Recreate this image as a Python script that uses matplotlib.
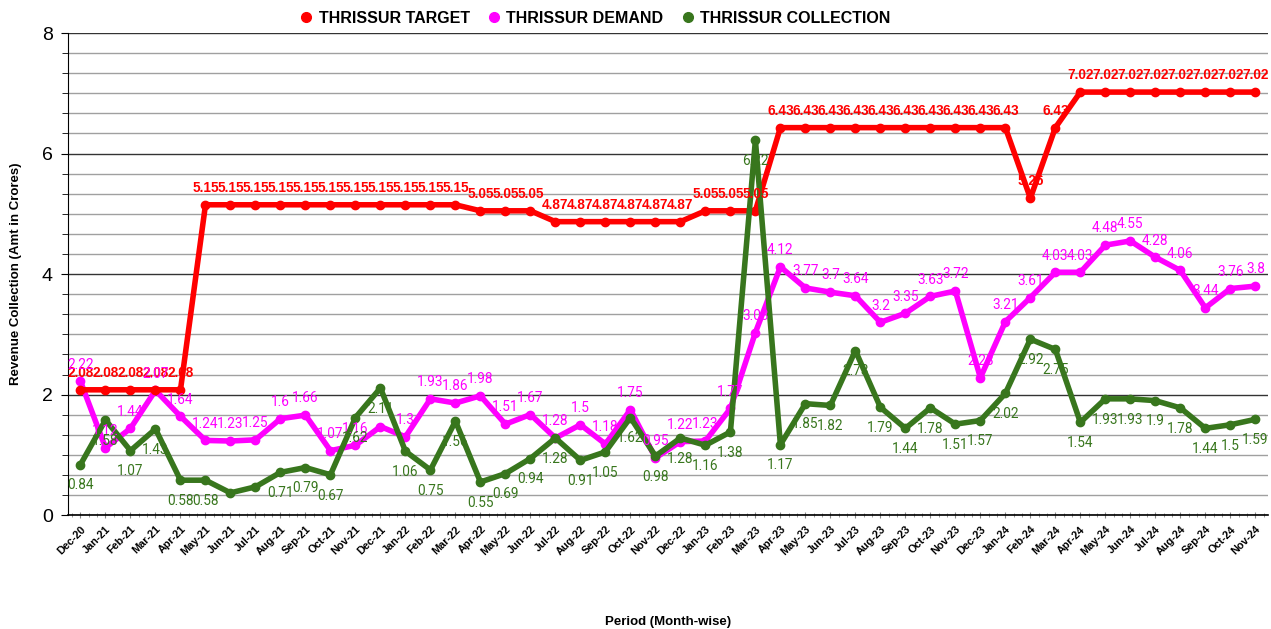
import matplotlib
matplotlib.use("Agg")
import matplotlib.pyplot as plt
from matplotlib.ticker import MultipleLocator
import numpy as np

months = ["Dec-20", "Jan-21", "Feb-21", "Mar-21", "Apr-21", "May-21", "Jun-21", "Jul-21",
          "Aug-21", "Sep-21", "Oct-21", "Nov-21", "Dec-21", "Jan-22", "Feb-22", "Mar-22",
          "Apr-22", "May-22", "Jun-22", "Jul-22", "Aug-22", "Sep-22", "Oct-22", "Nov-22",
          "Dec-22", "Jan-23", "Feb-23", "Mar-23", "Apr-23", "May-23", "Jun-23", "Jul-23",
          "Aug-23", "Sep-23", "Oct-23", "Nov-23", "Dec-23", "Jan-24", "Feb-24", "Mar-24",
          "Apr-24", "May-24", "Jun-24", "Jul-24", "Aug-24", "Sep-24", "Oct-24", "Nov-24"]

target = [2.08, 2.08, 2.08, 2.08, 2.08,
          5.15, 5.15, 5.15, 5.15, 5.15, 5.15, 5.15, 5.15, 5.15, 5.15, 5.15,
          5.05, 5.05, 5.05,
          4.87, 4.87, 4.87, 4.87, 4.87, 4.87,
          5.05, 5.05, 5.05,
          6.43, 6.43, 6.43, 6.43, 6.43, 6.43, 6.43, 6.43, 6.43, 6.43,
          5.26, 6.43,
          7.02, 7.02, 7.02, 7.02, 7.02, 7.02, 7.02, 7.02]

demand = [2.22, 1.12, 1.44, 2.07, 1.64, 1.24, 1.23, 1.25, 1.6, 1.66, 1.07, 1.16,
          1.47, 1.3, 1.93, 1.86, 1.98, 1.51, 1.67, 1.28, 1.5, 1.18, 1.75, 0.95,
          1.22, 1.23, 1.77, 3.03, 4.12, 3.77, 3.7, 3.64, 3.2, 3.35, 3.63, 3.72,
          2.28, 3.21, 3.61, 4.03, 4.03, 4.48, 4.55, 4.28, 4.06, 3.44, 3.76, 3.8]

collection = [0.84, 1.58, 1.07, 1.43, 0.58, 0.58, 0.37, 0.47, 0.71, 0.79, 0.67, 1.62,
              2.11, 1.06, 0.75, 1.56, 0.55, 0.69, 0.94, 1.28, 0.91, 1.05, 1.62, 0.98,
              1.28, 1.16, 1.38, 6.22, 1.17, 1.85, 1.82, 2.73, 1.79, 1.44, 1.78, 1.51,
              1.57, 2.02, 2.92, 2.75, 1.54, 1.93, 1.93, 1.9, 1.78, 1.44, 1.5, 1.59]

# labels hidden in the original (overlap)
demand_hidden = ["Dec-21"]
collection_hidden = ["Jun-21", "Jul-21"]

RED = "#ff0000"
MAG = "#ff00ff"
GRN = "#38761d"

fig = plt.figure(figsize=(12.71, 6.29), dpi=100)
ax = fig.add_axes([0.0535, 0.181, 0.944, 0.7665])

x = np.arange(len(months))
ax.plot(x, target, color=RED, lw=4, marker="o", ms=6, label="THRISSUR TARGET", zorder=5)
ax.plot(x, demand, color=MAG, lw=4, marker="o", ms=6, label="THRISSUR DEMAND", zorder=4)
ax.plot(x, collection, color=GRN, lw=4, marker="o", ms=6, label="THRISSUR COLLECTION", zorder=6)

def fmt(v):
    return f"{v:.2f}".rstrip("0").rstrip(".")

for i, v in enumerate(target):
    ax.annotate(fmt(v), (i, v), xytext=(0, 12), textcoords="offset points",
                ha="center", va="center", color=RED, fontsize=9.8, fontweight="bold",
                family="Liberation Sans", zorder=10)
for i, v in enumerate(demand):
    if months[i] in demand_hidden:
        continue
    ax.annotate(fmt(v), (i, v), xytext=(0, 12), textcoords="offset points",
                ha="center", va="center", color=MAG, fontsize=9.8,
                family="Roboto", zorder=10)
for i, v in enumerate(collection):
    if months[i] in collection_hidden:
        continue
    ax.annotate(fmt(v), (i, v), xytext=(0, -15), textcoords="offset points",
                ha="center", va="center", color=GRN, fontsize=9.8,
                family="Roboto", zorder=10)

ax.set_xlim(-0.5, len(months) - 0.5)
ax.set_ylim(0, 8)
ax.yaxis.set_major_locator(MultipleLocator(2))
ax.yaxis.set_minor_locator(MultipleLocator(1 / 3))
ax.grid(which="major", axis="y", color="#333333", lw=1.0, zorder=0)
ax.grid(which="minor", axis="y", color="#a0a0a0", lw=1.0, zorder=0)
ax.set_axisbelow(True)

ax.set_xticks(x)
ax.set_xticklabels(months, rotation=45, ha="right", rotation_mode="anchor",
                   fontsize=7.8, fontweight="bold", family="Liberation Sans")
ax.xaxis.set_minor_locator(MultipleLocator(1 / 3))
ax.tick_params(axis="x", which="major", length=5, width=0.8, color="#888888", direction="inout", pad=4)
ax.tick_params(axis="x", which="minor", length=3, width=0.6, color="#888888", direction="inout")
ax.tick_params(axis="y", which="major", length=5, labelsize=14, pad=6)
ax.tick_params(axis="y", which="minor", length=4)
for lab in ax.get_yticklabels():
    lab.set_family("Liberation Sans")

for s in ["top", "right"]:
    ax.spines[s].set_visible(False)
ax.spines["left"].set_color("black")
ax.spines["bottom"].set_color("black")
ax.spines["bottom"].set_linewidth(1.2)

ax.set_xlabel("Period (Month-wise)", fontsize=9.5, fontweight="bold",
              family="Liberation Sans", labelpad=42)
ax.set_ylabel("Revenue Collection (Amt in Crores)", fontsize=9.5, fontweight="bold",
              family="Liberation Sans", labelpad=14)

leg = ax.legend(loc="lower center", bbox_to_anchor=(0.44, 0.985), ncol=3, frameon=False,
                handlelength=0.6, handletextpad=0.5, columnspacing=1.2,
                prop={"family": "Liberation Sans", "weight": "bold", "size": 11.5})
for h in leg.legend_handles:
    h.set_linestyle("none")
    h.set_markersize(7)

fig.savefig("out.png", dpi=100)
